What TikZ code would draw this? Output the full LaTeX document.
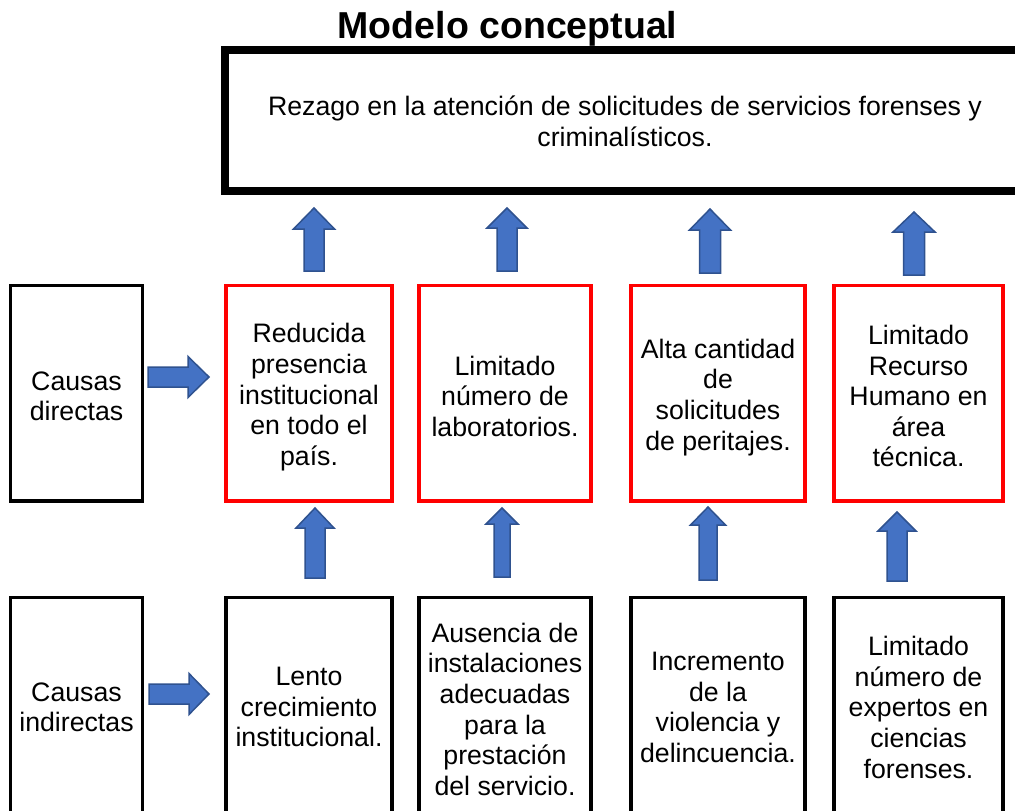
\documentclass[tikz,border=0pt]{standalone}
\usepackage{fontspec}
\setmainfont{Liberation Sans}
\definecolor{arrfill}{HTML}{4472C4}
\definecolor{arrline}{HTML}{2F528F}
\newcommand\UpArr[6]{%
  \draw[blockarr] (#1,#2) -- (#1+#4,#2+#6) -- (#1+#5,#2+#6) -- (#1+#5,#3) -- (#1-#5,#3) -- (#1-#5,#2+#6) -- (#1-#4,#2+#6) -- cycle;}
\newcommand\RtArr[6]{%
  \draw[blockarr] (#1,#2) -- (#1-#6,#2-#4) -- (#1-#6,#2-#5) -- (#3,#2-#5) -- (#3,#2+#5) -- (#1-#6,#2+#5) -- (#1-#6,#2+#4) -- cycle;}
\begin{document}
\begin{tikzpicture}[x=1pt,y=-1pt,
  txt/.style={font=\fontsize{26.7}{30.6}\selectfont, align=center, inner sep=0pt},
  blackbox/.style={draw=black, line width=3.5pt, minimum height=215.5pt, inner sep=0pt},
  redbox/.style={draw=red, line width=3.5pt, minimum height=215.5pt, inner sep=0pt},
  blockarr/.style={fill=arrfill, draw=arrline, line width=1.5pt, line join=miter}
]
\useasboundingbox (0,0) rectangle (1015,811);
\clip (0,0) rectangle (1015,811);

% title
\node[anchor=base, font=\fontsize{37.5}{42}\selectfont\bfseries, inner sep=0pt] (title) at (507.5,38) {Modelo conceptual};

% effect box (runs past the right edge)
\node[draw=black, line width=8pt, minimum width=840pt, minimum height=141pt, inner sep=0pt] (efecto) at (645,120.5) {};
\node[txt] (efectotxt) at (625,121) {Rezago en la atención de solicitudes de servicios forenses y\\criminalísticos.};

% direct causes row
\node[blackbox, minimum width=132pt] (cd) at (76.5,393.25) {};
\node[redbox, minimum width=166pt] (r1) at (309,393.25) {};
\node[redbox, minimum width=172pt] (r2) at (505,393.25) {};
\node[redbox, minimum width=174pt] (r3) at (718,393.25) {};
\node[redbox, minimum width=169pt] (r4) at (918.5,393.25) {};
\node[txt] (cdt) at ([yshift=-3pt]cd.center) {Causas\\directas};
\node[txt] (r1t) at ([yshift=-4pt]r1.center) {Reducida\\presencia\\institucional\\en todo el\\país.};
\node[txt] (r2t) at ([yshift=-3pt]r2.center) {Limitado\\número de\\laboratorios.};
\node[txt] (r3t) at ([yshift=-4pt]r3.center) {Alta cantidad\\de\\solicitudes\\de peritajes.};
\node[txt] (r4t) at ([yshift=-3pt]r4.center) {Limitado\\Recurso\\Humano en\\área\\técnica.};

% indirect causes row
\node[blackbox, minimum width=132pt] (ci) at (76.5,705.25) {};
\node[blackbox, minimum width=166pt] (b1) at (309,705.25) {};
\node[blackbox, minimum width=172pt] (b2) at (505,705.25) {};
\node[blackbox, minimum width=174pt] (b3) at (718,705.25) {};
\node[blackbox, minimum width=169pt] (b4) at (918.5,705.25) {};
\node[txt] (cit) at ([yshift=-2pt]ci.center) {Causas\\indirectas};
\node[txt] (b1t) at ([yshift=-2pt]b1.center) {Lento\\crecimiento\\institucional.};
\node[txt] (b2t) at ([yshift=-4pt]b2.center) {Ausencia de\\instalaciones\\adecuadas\\para la\\prestación\\del servicio.};
\node[txt] (b3t) at ([yshift=-2pt]b3.center) {Incremento\\de la\\violencia y\\delincuencia.};
\node[txt] (b4t) at ([yshift=-2pt]b4.center) {Limitado\\número de\\expertos en\\ciencias\\forenses.};

% up arrows, row 1
\UpArr{314}{208}{271}{20.5}{10}{21}
\UpArr{507}{208}{271}{20}{10}{20}
\UpArr{710}{209}{273}{20.5}{10.5}{21}
\UpArr{914}{212}{275}{21}{10.5}{20}
% up arrows, row 2
\UpArr{315}{508}{578}{19}{10}{20}
\UpArr{502}{508}{577}{16}{8}{16}
\UpArr{708}{507}{580}{17.5}{9}{18}
\UpArr{897}{512}{581}{19}{10}{19}

% right arrows
\RtArr{209}{377}{148}{20.5}{10}{21}
\RtArr{209}{694}{149}{20.5}{10}{20}
\end{tikzpicture}
\end{document}
